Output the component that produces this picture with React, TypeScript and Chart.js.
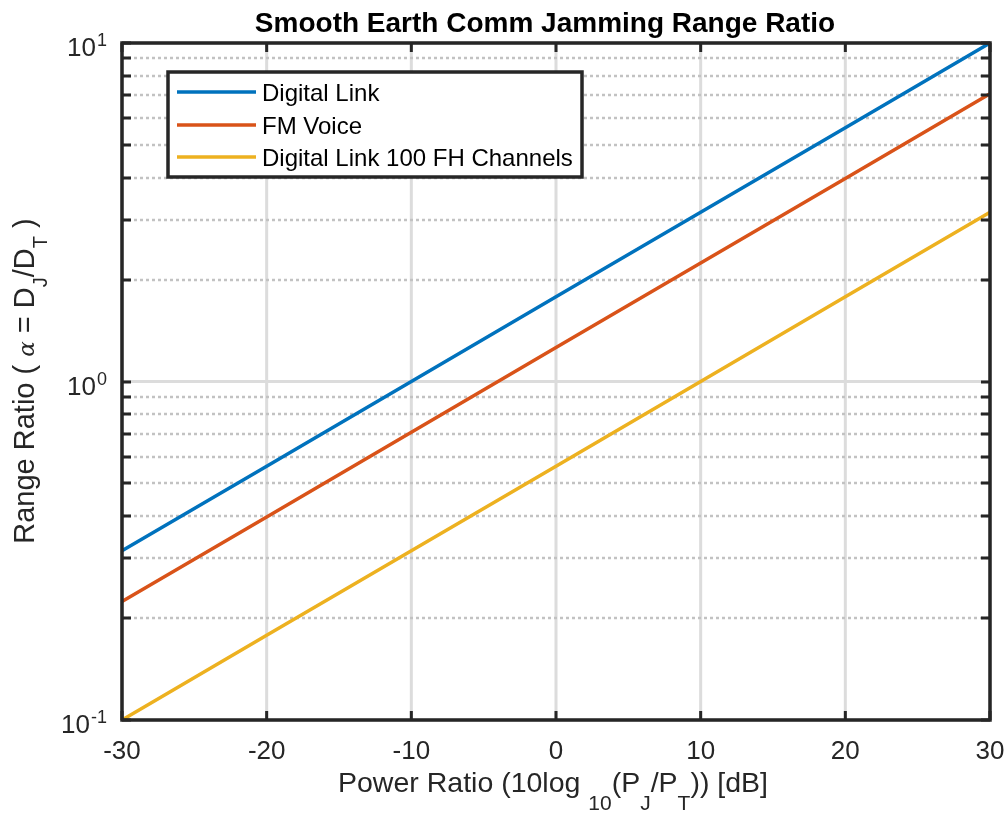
import React, { useEffect, useRef } from 'react';
import { Chart, registerables } from 'chart.js';

Chart.register(...registerables);

// ---------- data ----------
const X_VALUES = [-30, -20, -10, 0, 10, 20, 30];
const DIGITAL_LINK = [0.316, 0.562, 1.0, 1.78, 3.16, 5.62, 10.0];
const FM_VOICE = [0.224, 0.398, 0.708, 1.26, 2.24, 3.98, 7.08];
const DIGITAL_LINK_FH = [0.1, 0.178, 0.316, 0.562, 1.0, 1.78, 3.16];

const SERIES_NAMES = ['Digital Link', 'FM Voice', 'Digital Link 100 FH Channels'];
const SERIES_COLORS = ['#0072BD', '#D95319', '#EDB120'];

const X_TICKS = [-30, -20, -10, 0, 10, 20, 30];
const X_TICK_LABELS = ['-30', '-20', '-10', '0', '10', '20', '30'];
const Y_MAJOR_TICKS = [0.1, 1, 10];
const Y_MAJOR_EXPONENTS = ['-1', '0', '1'];
const Y_MINOR_TICKS = [0.2, 0.3, 0.4, 0.5, 0.6, 0.7, 0.8, 0.9, 2, 3, 4, 5, 6, 7, 8, 9];

const TITLE = 'Smooth Earth Comm Jamming Range Ratio';
// [text, kind] kind: 0 normal, 1 subscript, 2 greek symbol
const X_LABEL_PARTS: [string, number][] = [
  ['Power Ratio (10log ', 0], ['10', 1], ['(P', 0], ['J', 1], ['/P', 0], ['T', 1], [')) [dB]', 0],
];
const Y_LABEL_PARTS: [string, number][] = [
  ['Range Ratio ( ', 0], ['α', 2], [' = D', 0], ['J', 1], ['/D', 0], ['T', 1], [' )', 0],
];

const FONT = '"Liberation Sans", Arial, Helvetica, sans-serif';
const AXIS_COLOR = '#262626';

function setFont(ctx: CanvasRenderingContext2D, k: number, main: number, sub: number, sym: number) {
  ctx.font = k === 0 ? `${main}px ${FONT}` : k === 1 ? `${sub}px ${FONT}` : `italic ${sym}px "DejaVu Serif", serif`;
}

function richWidth(ctx: CanvasRenderingContext2D, parts: [string, number][], main: number, sub: number, sym: number) {
  let w = 0;
  for (const [t, k] of parts) {
    setFont(ctx, k, main, sub, sym);
    w += ctx.measureText(t).width;
  }
  return w;
}

function drawRich(ctx: CanvasRenderingContext2D, parts: [string, number][], x0: number, baseline: number, main: number, sub: number, sym: number, subOffset: number) {
  let x = x0;
  ctx.textAlign = 'left';
  ctx.textBaseline = 'alphabetic';
  for (const [t, k] of parts) {
    setFont(ctx, k, main, sub, sym);
    const yy = k === 1 ? baseline + subOffset : baseline;
    ctx.fillText(t, x, yy);
    x += ctx.measureText(t).width;
  }
}

const matlabPlugin = {
  id: 'matlabAxes',
  beforeDatasetsDraw(chart: any) {
    const { ctx, chartArea: a, scales } = chart;
    const x = scales.x;
    const y = scales.y;
    ctx.save();
    // major grid
    ctx.strokeStyle = '#dcdcdc';
    ctx.lineWidth = 3;
    ctx.setLineDash([]);
    for (const v of X_TICKS) {
      const px = x.getPixelForValue(v);
      ctx.beginPath();
      ctx.moveTo(px, a.top);
      ctx.lineTo(px, a.bottom);
      ctx.stroke();
    }
    for (const v of Y_MAJOR_TICKS) {
      const py = y.getPixelForValue(v);
      ctx.beginPath();
      ctx.moveTo(a.left, py);
      ctx.lineTo(a.right, py);
      ctx.stroke();
    }
    // minor dotted grid
    ctx.strokeStyle = '#c2c2c2';
    ctx.lineWidth = 2.5;
    ctx.setLineDash([3, 3]);
    for (const v of Y_MINOR_TICKS) {
      const py = Math.round(y.getPixelForValue(v));
      ctx.beginPath();
      ctx.moveTo(a.left, py);
      ctx.lineTo(a.right, py);
      ctx.stroke();
    }
    ctx.restore();
  },
  afterDatasetsDraw(chart: any) {
    const { ctx, chartArea: a, scales } = chart;
    const x = scales.x;
    const y = scales.y;
    ctx.save();
    ctx.setLineDash([]);
    // ticks
    ctx.strokeStyle = AXIS_COLOR;
    ctx.lineWidth = 3;
    const TL = 9;
    for (const v of X_TICKS) {
      const px = x.getPixelForValue(v);
      ctx.beginPath();
      ctx.moveTo(px, a.bottom);
      ctx.lineTo(px, a.bottom - TL);
      ctx.moveTo(px, a.top);
      ctx.lineTo(px, a.top + TL);
      ctx.stroke();
    }
    for (const v of [...Y_MAJOR_TICKS, ...Y_MINOR_TICKS]) {
      const py = Math.round(y.getPixelForValue(v));
      ctx.beginPath();
      ctx.moveTo(a.left, py);
      ctx.lineTo(a.left + TL, py);
      ctx.moveTo(a.right, py);
      ctx.lineTo(a.right - TL, py);
      ctx.stroke();
    }
    // box
    ctx.lineWidth = 3.5;
    ctx.strokeRect(a.left, a.top, a.right - a.left, a.bottom - a.top);

    // x tick labels
    ctx.fillStyle = AXIS_COLOR;
    ctx.font = `26px ${FONT}`;
    ctx.textAlign = 'center';
    ctx.textBaseline = 'alphabetic';
    X_TICKS.forEach((v, i) => {
      ctx.fillText(X_TICK_LABELS[i], x.getPixelForValue(v), a.bottom + 39);
    });
    // y tick labels (10^n)
    const rightEdge = a.left - 15;
    Y_MAJOR_TICKS.forEach((v, i) => {
      const py = y.getPixelForValue(v);
      ctx.font = `18px ${FONT}`;
      const supW = ctx.measureText(Y_MAJOR_EXPONENTS[i]).width;
      const baseRight = rightEdge - supW - 1;
      ctx.textAlign = 'right';
      ctx.font = `26px ${FONT}`;
      ctx.fillText('10', baseRight, py + 13);
      ctx.textAlign = 'left';
      ctx.font = `18px ${FONT}`;
      ctx.fillText(Y_MAJOR_EXPONENTS[i], baseRight + 1, py + 3);
    });

    // x axis label
    ctx.fillStyle = AXIS_COLOR;
    const xw = richWidth(ctx, X_LABEL_PARTS, 28.5, 21, 21);
    const xc = 553;
    drawRich(ctx, X_LABEL_PARTS, xc - xw / 2, a.bottom + 72, 28.5, 21, 21, 18);

    // y axis label (rotated)
    const yw = richWidth(ctx, Y_LABEL_PARTS, 29, 20, 23);
    ctx.save();
    ctx.translate(34, 381);
    ctx.rotate(-Math.PI / 2);
    drawRich(ctx, Y_LABEL_PARTS, -yw / 2, 0, 29, 20, 23, 13);
    ctx.restore();

    // title
    ctx.fillStyle = '#000000';
    ctx.font = `bold 28px ${FONT}`;
    ctx.textAlign = 'center';
    ctx.textBaseline = 'alphabetic';
    ctx.fillText(TITLE, 545, 32);

    // legend
    const lx = 168, ly = 72, lw = 414, lh = 105;
    ctx.fillStyle = '#ffffff';
    ctx.fillRect(lx, ly, lw, lh);
    ctx.strokeStyle = AXIS_COLOR;
    ctx.lineWidth = 3.5;
    ctx.strokeRect(lx, ly, lw, lh);
    const rowsY = [92, 125, 157];
    SERIES_NAMES.forEach((name, i) => {
      ctx.strokeStyle = SERIES_COLORS[i];
      ctx.lineWidth = 3.5;
      ctx.beginPath();
      ctx.moveTo(177, rowsY[i]);
      ctx.lineTo(256, rowsY[i]);
      ctx.stroke();
      ctx.fillStyle = '#000000';
      ctx.font = `24px ${FONT}`;
      ctx.textAlign = 'left';
      ctx.textBaseline = 'alphabetic';
      ctx.fillText(name, 262, rowsY[i] + 9);
    });
    ctx.restore();
  },
};

export default function App() {
  const canvasRef = useRef<HTMLCanvasElement | null>(null);

  useEffect(() => {
    const canvas = canvasRef.current;
    if (!canvas) return;
    const series = [DIGITAL_LINK, FM_VOICE, DIGITAL_LINK_FH];
    const chart = new Chart(canvas, {
      type: 'line',
      data: {
        datasets: series.map((vals, i) => ({
          label: SERIES_NAMES[i],
          data: X_VALUES.map((xv, j) => ({ x: xv, y: vals[j] })),
          borderColor: SERIES_COLORS[i],
          backgroundColor: SERIES_COLORS[i],
          borderWidth: 3.5,
          pointRadius: 0,
          tension: 0,
          fill: false,
          clip: 2,
        })),
      },
      options: {
        animation: false,
        responsive: false,
        devicePixelRatio: 1,
        layout: { padding: { left: 122, right: 18, top: 43, bottom: 96 } },
        plugins: {
          legend: { display: false },
          title: { display: false },
          tooltip: { enabled: false },
        },
        events: [],
        scales: {
          x: {
            type: 'linear',
            min: -30,
            max: 30,
            grid: { display: false, drawTicks: false },
            border: { display: false },
            ticks: { display: false },
            afterFit: (s: any) => { s.height = 0; },
          },
          y: {
            type: 'logarithmic',
            min: 0.1,
            max: 10,
            grid: { display: false, drawTicks: false },
            border: { display: false },
            ticks: { display: false },
            afterFit: (s: any) => { s.width = 0; },
          },
        },
      },
      plugins: [matlabPlugin],
    });
    return () => chart.destroy();
  }, []);

  return (
    <div style={{ position: 'fixed', left: 0, top: 0, width: 1008, height: 816, background: '#ffffff' }}>
      <canvas ref={canvasRef} width={1008} height={816} style={{ width: 1008, height: 816, display: 'block' }} />
    </div>
  );
}
